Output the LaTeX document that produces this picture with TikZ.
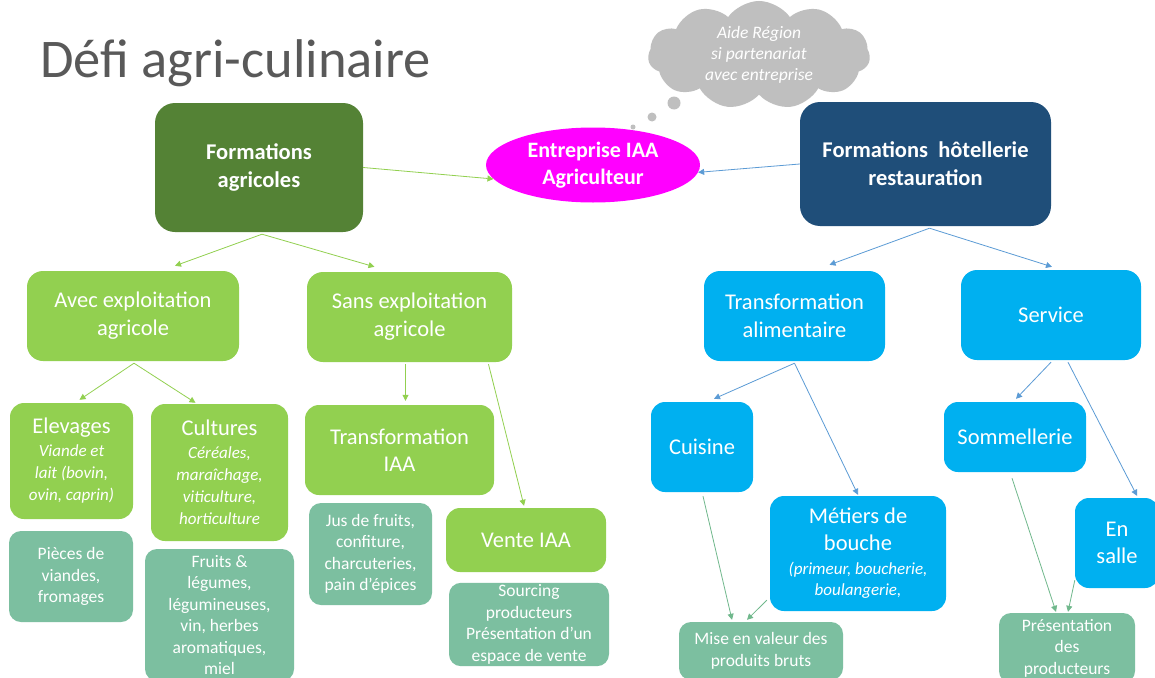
\documentclass[tikz,border=0pt]{standalone}
\usepackage{fontspec}
\setmainfont{Carlito}
\usetikzlibrary{shapes.geometric,shapes.symbols,arrows.meta}
\definecolor{dkgreen}{RGB}{84,130,53}
\definecolor{ltgreen}{RGB}{146,208,80}
\definecolor{leafgreen}{RGB}{124,191,160}
\definecolor{dkblue}{RGB}{31,78,121}
\definecolor{ltblue}{RGB}{0,176,240}
\definecolor{magent}{RGB}{255,0,255}
\definecolor{cloudgray}{RGB}{191,191,191}
\definecolor{titlegray}{RGB}{89,89,89}
\definecolor{arrgreen}{RGB}{146,208,80}
\definecolor{arrblue}{RGB}{91,155,213}
\definecolor{arrteal}{RGB}{112,184,140}
\tikzset{
  box/.style={rounded corners=14pt, align=center, text=white, inner sep=2pt},
  topbox/.style={box, rounded corners=20pt, font=\bfseries\fontsize{22.5}{28}\selectfont},
  midbox/.style={box, rounded corners=16pt, font=\fontsize{22.5}{28}\selectfont},
  lowbox/.style={box, font=\fontsize{22.5}{27}\selectfont},
  leafbox/.style={box, rounded corners=12pt, fill=leafgreen, font=\fontsize{17.5}{21.5}\selectfont},
  ar/.style={-{Triangle[length=6pt,width=6pt]}, line width=0.8pt},
  bubble/.style={circle, fill=cloudgray, inner sep=0pt}
}
\newcommand\subit[1]{{\itshape\fontsize{17}{21}\selectfont #1}}
\begin{document}
\begin{tikzpicture}[x=1pt,y=-1pt]
\useasboundingbox (0,0) rectangle (1155,677);
\clip (0,0) rectangle (1155,677);
\fill[white] (0,0) rectangle (1155,677);

% title
\node[anchor=base west, inner sep=0pt, text=titlegray, font=\fontsize{54.5}{62}\selectfont] (title) at (40,77) {Défi agri-culinaire};

% cloud
\node[cloud, cloud puffs=11, cloud puff arc=110, aspect=2.6, fill=cloudgray, minimum width=222, minimum height=84, text=white, align=center, font=\itshape\fontsize{17.5}{21}\selectfont, inner sep=0pt] (cloud) at (759,55) {Aide Région\\si partenariat\\avec entreprise};
\node[bubble, minimum size=13] (b1) at (674,103) {};
\node[bubble, minimum size=9] (b2) at (652,117) {};
\node[bubble, minimum size=5] (b3) at (633,127) {};

% top level
\node[topbox, fill=dkgreen, minimum width=208, minimum height=129] (fa) at (259,167.5) {Formations\\agricoles};
\node[ellipse, fill=magent, minimum width=214, minimum height=75, align=center, text=white, font=\bfseries\fontsize{22}{27}\selectfont, inner sep=0pt] (ell) at (593,165) {Entreprise IAA\\Agriculteur};
\node[topbox, fill=dkblue, minimum width=251, minimum height=124] (fh) at (925.5,164) {Formations~~hôtellerie\\restauration};

% level 2
\node[midbox, fill=ltgreen, minimum width=212, minimum height=90] (avec) at (133,316) {Avec exploitation\\agricole};
\node[midbox, fill=ltgreen, minimum width=205, minimum height=90] (sans) at (409.5,317) {Sans exploitation\\agricole};
\node[midbox, fill=ltblue, minimum width=181, minimum height=90] (tal) at (794.5,316) {Transformation\\alimentaire};
\node[midbox, fill=ltblue, minimum width=180, minimum height=90] (serv) at (1051,315) {Service};

% level 3 left
\node[lowbox, fill=ltgreen, minimum width=123, minimum height=116] (elev) at (71.5,461) {Elevages\\[-4pt]\subit{Viande et}\\[-5pt]\subit{lait (bovin,}\\[-5pt]\subit{ovin, caprin)}};
\node[lowbox, fill=ltgreen, minimum width=137, minimum height=137] (cult) at (219.5,472.5) {Cultures\\[-4pt]\subit{Céréales,}\\[-5pt]\subit{maraîchage,}\\[-5pt]\subit{viticulture,}\\[-5pt]\subit{horticulture}};
\node[lowbox, fill=ltgreen, minimum width=189, minimum height=90] (tiaa) at (399.5,450) {Transformation\\IAA};
\node[lowbox, fill=ltgreen, minimum width=160, minimum height=64] (vente) at (526,540) {Vente IAA};

% leaves left
\node[leafbox, minimum width=124, minimum height=91] (pieces) at (71,576.5) {Pièces de\\viandes,\\fromages};
\node[leafbox, minimum width=149, minimum height=132] (fruits) at (219.5,615) {Fruits \&\\légumes,\\légumineuses,\\vin, herbes\\aromatiques,\\miel};
\node[leafbox, minimum width=123, minimum height=102] (jus) at (370.5,554) {Jus de fruits,\\confiture,\\charcuteries,\\pain d’épices};
\node[leafbox, minimum width=160, minimum height=83] (sourcing) at (529,624.5) {Sourcing\\producteurs\\Présentation d’un\\espace de vente};

% level 3 right
\node[lowbox, fill=ltblue, minimum width=102, minimum height=90] (cuis) at (702,447) {Cuisine};
\node[lowbox, fill=ltblue, minimum width=176, minimum height=115] (met) at (858,553.5) {Métiers de\\bouche\\[-3pt]\subit{(primeur, boucherie,}\\[-6pt]\subit{boulangerie,}};
\node[lowbox, fill=ltblue, minimum width=142, minimum height=70] (somm) at (1015,437) {Sommellerie};
\node[lowbox, fill=ltblue, minimum width=84, minimum height=90] (salle) at (1117,543) {En\\salle};

% leaves right
\node[leafbox, minimum width=164, minimum height=58] (mise) at (761,651) {Mise en valeur des\\produits bruts};
\node[leafbox, minimum width=136, minimum height=70] (pres) at (1067,648) {Présentation\\des\\producteurs};

% connectors
\draw[ar, arrgreen] (fa.east) -- (ell.188);
\draw[ar, arrblue] (fh.west) -- (ell.-4);
\draw[ar, arrgreen] ([shift={(3,2)}]fa.south) -- ([shift={(42,-5)}]avec.north);
\draw[ar, arrgreen] ([shift={(3,2)}]fa.south) -- ([shift={(-35,-5)}]sans.north);
\draw[ar, arrblue] ([shift={(4,2)}]fh.south) -- ([shift={(35,-6)}]tal.north);
\draw[ar, arrblue] ([shift={(4,2)}]fh.south) -- ([shift={(1,-3)}]serv.north);
\draw[ar, arrgreen] ([shift={(1,2)}]avec.south) -- ([shift={(8,-3)}]elev.north);
\draw[ar, arrgreen] ([shift={(1,2)}]avec.south) -- ([shift={(-24,-1)}]cult.north);
\draw[ar, arrgreen] ([shift={(-4,2)}]sans.south) -- ([shift={(6,-4)}]tiaa.north);
\draw[ar, arrgreen] ([shift={(79,2)}]sans.south) -- ([shift={(-2,-2)}]vente.north);
\draw[ar, arrblue] ([shift={(0,2)}]tal.south) -- ([shift={(12,-3)}]cuis.north);
\draw[ar, arrblue] ([shift={(0,2)}]tal.south) -- ([shift={(0,-1)}]met.north);
\draw[ar, arrblue] ([shift={(0,2)}]serv.south) -- ([shift={(1,-3)}]somm.north);
\draw[ar, arrblue] ([shift={(17,2)}]serv.south) -- ([shift={(20,-2)}]salle.north);
\draw[ar, arrteal] ([shift={(1,4)}]cuis.south) -- ([shift={(-29,-2)}]mise.north);
\draw[ar, arrteal] ([shift={(-3,-11)}]met.south west) -- ([shift={(-14,-2)}]mise.north);
\draw[ar, arrteal] ([shift={(-3,6)}]somm.south) -- ([shift={(-11,-1)}]pres.north);
\draw[ar, arrteal] ([shift={(0,-8)}]salle.south west) -- ([shift={(1,-1)}]pres.north);
\end{tikzpicture}
\end{document}
